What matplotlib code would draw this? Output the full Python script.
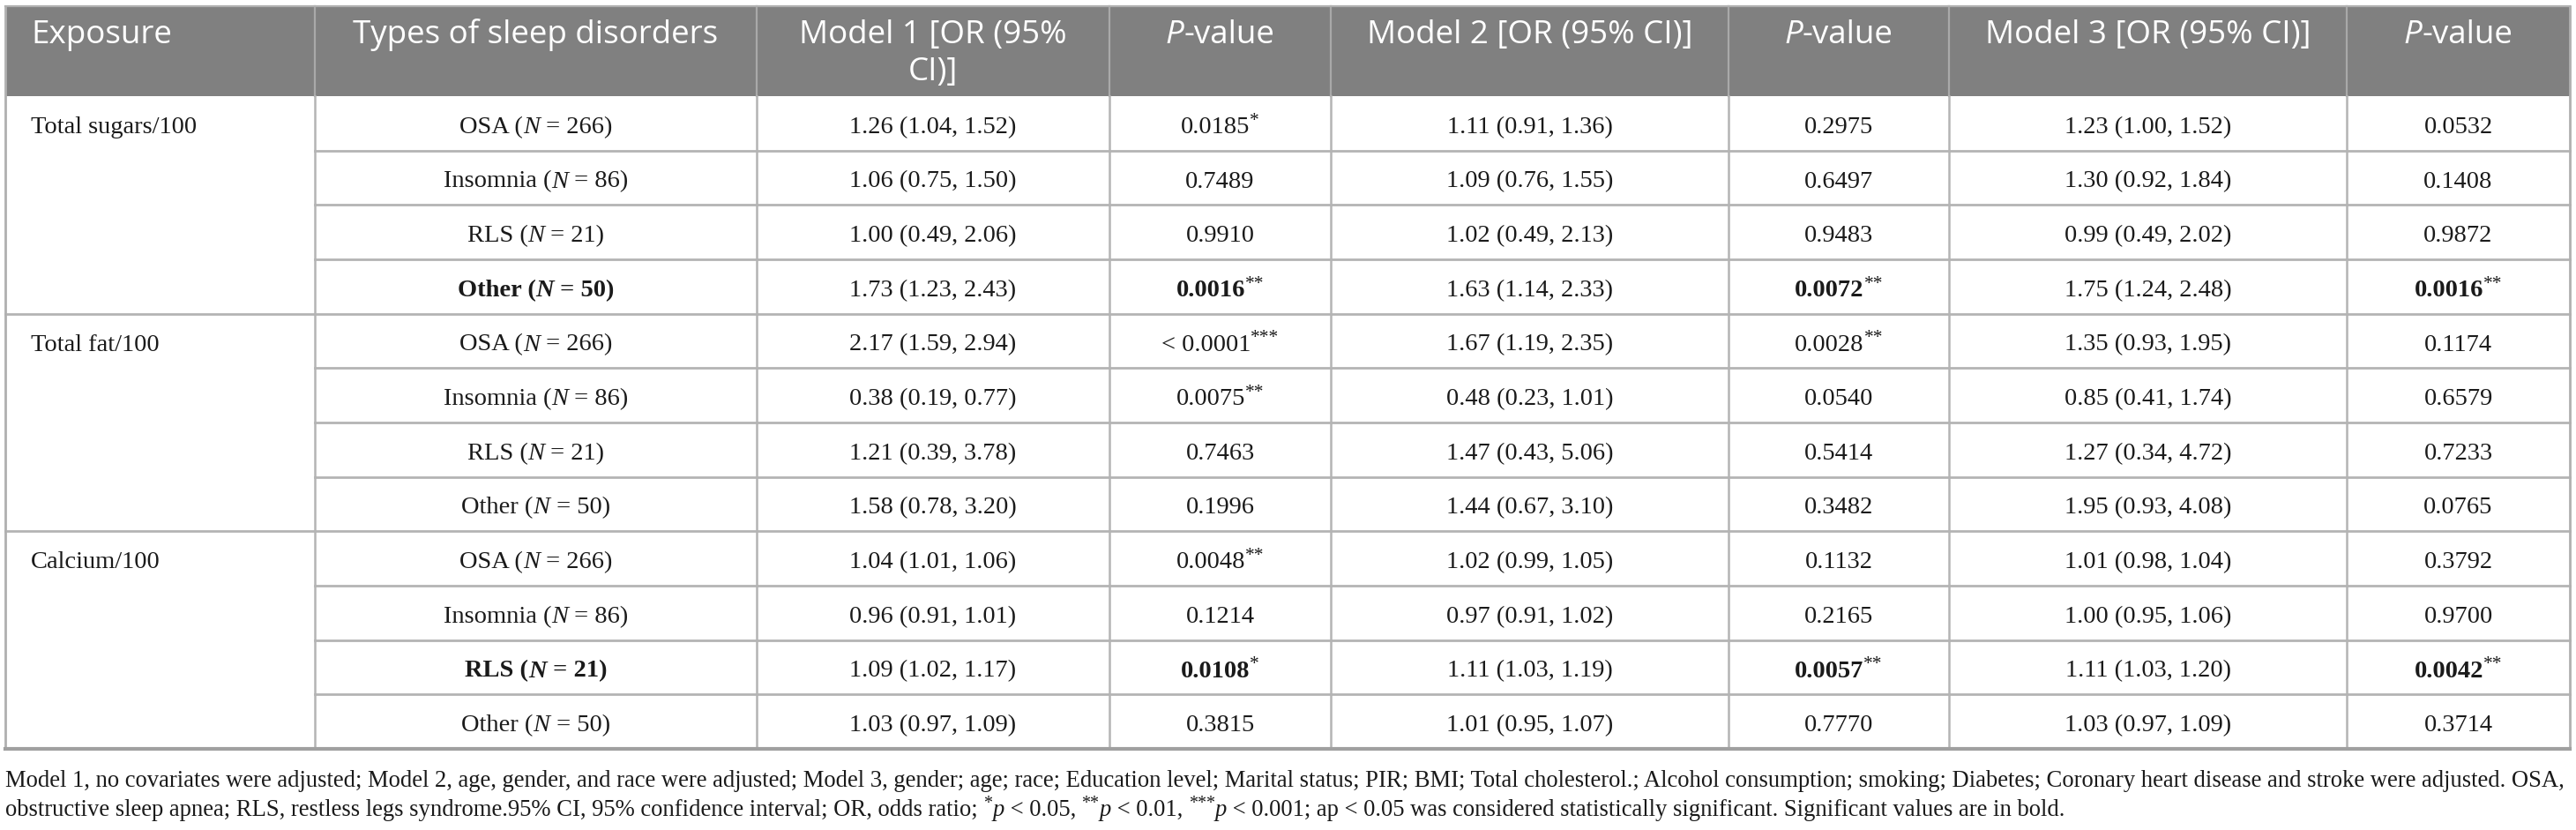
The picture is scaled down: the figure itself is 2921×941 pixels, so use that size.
import matplotlib
matplotlib.use("Agg")
import matplotlib.pyplot as plt

# ---- table content ----
exposures = ["Total sugars/100", "Total fat/100", "Calcium/100"]
disorders = ["OSA", "Insomnia", "RLS", "Other"]
n_cases = [266, 86, 21, 50]

headers = ["Exposure", "Types of sleep disorders", "Model 1 [OR (95%\nCI)]", "P-value",
           "Model 2 [OR (95% CI)]", "P-value", "Model 3 [OR (95% CI)]", "P-value"]

model1_or = ["1.26 (1.04, 1.52)", "1.06 (0.75, 1.50)", "1.00 (0.49, 2.06)", "1.73 (1.23, 2.43)",
             "2.17 (1.59, 2.94)", "0.38 (0.19, 0.77)", "1.21 (0.39, 3.78)", "1.58 (0.78, 3.20)",
             "1.04 (1.01, 1.06)", "0.96 (0.91, 1.01)", "1.09 (1.02, 1.17)", "1.03 (0.97, 1.09)"]
model1_p = ["0.0185*", "0.7489", "0.9910", "0.0016**",
            "< 0.0001***", "0.0075**", "0.7463", "0.1996",
            "0.0048**", "0.1214", "0.0108*", "0.3815"]
model2_or = ["1.11 (0.91, 1.36)", "1.09 (0.76, 1.55)", "1.02 (0.49, 2.13)", "1.63 (1.14, 2.33)",
             "1.67 (1.19, 2.35)", "0.48 (0.23, 1.01)", "1.47 (0.43, 5.06)", "1.44 (0.67, 3.10)",
             "1.02 (0.99, 1.05)", "0.97 (0.91, 1.02)", "1.11 (1.03, 1.19)", "1.01 (0.95, 1.07)"]
model2_p = ["0.2975", "0.6497", "0.9483", "0.0072**",
            "0.0028**", "0.0540", "0.5414", "0.3482",
            "0.1132", "0.2165", "0.0057**", "0.7770"]
model3_or = ["1.23 (1.00, 1.52)", "1.30 (0.92, 1.84)", "0.99 (0.49, 2.02)", "1.75 (1.24, 2.48)",
             "1.35 (0.93, 1.95)", "0.85 (0.41, 1.74)", "1.27 (0.34, 4.72)", "1.95 (0.93, 4.08)",
             "1.01 (0.98, 1.04)", "1.00 (0.95, 1.06)", "1.11 (1.03, 1.20)", "1.03 (0.97, 1.09)"]
model3_p = ["0.0532", "0.1408", "0.9872", "0.0016**",
            "0.1174", "0.6579", "0.7233", "0.0765",
            "0.3792", "0.9700", "0.0042**", "0.3714"]
bold_rows = [3, 10]   # rows printed in bold (significant in every model)

note1 = ("Model 1, no covariates were adjusted; Model 2, age, gender, and race were adjusted; Model 3, gender; "
         "age; race; Education level; Marital status; PIR; BMI; Total cholesterol.; Alcohol consumption; smoking; "
         "Diabetes; Coronary heart disease and stroke were adjusted. OSA,")
note2 = [("obstructive sleep apnea; RLS, restless legs syndrome.95% CI, 95% confidence interval; OR, odds ratio; ", "n"),
         ("*", "sup"), ("p", "i"), (" < 0.05, ", "n"), ("**", "sup"), ("p", "i"), (" < 0.01, ", "n"),
         ("***", "sup"), ("p", "i"),
         (" < 0.001; ap < 0.05 was considered statistically significant. Significant values are in bold.", "n")]

# ---- layout (pixels) ----
W, H = 2921, 941
col_edges = [6, 357, 858, 1258, 1509, 1960, 2210, 2661, 2914]
head_top, head_bot, tab_bot = 7, 109, 849
n_rows = 12
row_h = (tab_bot - head_bot) / n_rows

SERIF = "Liberation Serif"
SANS = "Open Sans"
body_fs = 20.5
head_fs = 26.5
head_bg = "#808080"
line_c = "#b4b4b4"

fig = plt.figure(figsize=(W / 100, H / 100), dpi=100)
ax = fig.add_axes([0, 0, 1, 1])
ax.set_xlim(0, W)
ax.set_ylim(H, 0)
ax.axis("off")
renderer = fig.canvas.get_renderer()


def text_width(txt, **kw):
    # measure with guard characters so leading/trailing spaces count
    t1 = ax.text(0, 0, "|" + txt + "|", **kw)
    t2 = ax.text(0, 0, "||", **kw)
    w = t1.get_window_extent(renderer).width - t2.get_window_extent(renderer).width
    t1.remove()
    t2.remove()
    return w


def draw_runs(x, base_y, runs, ha="center", size=body_fs):
    # runs: (text, kind) kind in n, b, i, bi, sup
    px = size * 100 / 72
    pieces = []
    for txt, kind in runs:
        kw = dict(family=SERIF, fontsize=size, va="baseline", ha="left", color="#1a1a1a")
        dy = 0
        if kind in ("b", "bi"):
            kw["fontweight"] = "bold"
        if kind in ("i", "bi"):
            kw["fontstyle"] = "italic"
        if kind == "sup":
            kw["fontsize"] = size * 0.75
            dy = -0.32 * px
        pieces.append((txt, kw, dy, text_width(txt, **kw)))
    total = sum(p[3] for p in pieces)
    cx = x - total / 2 if ha == "center" else x
    for txt, kw, dy, w in pieces:
        ax.text(cx, base_y + dy, txt, **kw)
        cx += w


def split_p(val, bold):
    stars = val.rstrip("*")
    nstar = len(val) - len(stars)
    runs = [(stars, "b" if bold else "n")]
    if nstar:
        runs.append(("*" * nstar, "sup"))
    return runs


# header
ax.add_patch(plt.Rectangle((col_edges[0], head_top), col_edges[-1] - col_edges[0], head_bot - head_top,
                           facecolor=head_bg, edgecolor="none", zorder=0))
for i, h in enumerate(headers):
    x0, x1 = col_edges[i], col_edges[i + 1]
    if i == 0:
        xt, ha = x0 + 29, "left"
    else:
        xt, ha = (x0 + x1) / 2, "center"
    if h == "P-value":
        w1 = text_width("P", family=SANS, fontsize=head_fs, fontstyle="italic")
        w2 = text_width("-value", family=SANS, fontsize=head_fs)
        sx = xt - (w1 + w2) / 2
        ax.text(sx, 49, "P", family=SANS, fontsize=head_fs, fontstyle="italic", color="white", va="baseline")
        ax.text(sx + w1, 49, "-value", family=SANS, fontsize=head_fs, color="white", va="baseline")
    else:
        for k, line in enumerate(h.split("\n")):
            ax.text(xt, 49 + k * 42, line, family=SANS, fontsize=head_fs, color="white",
                    ha=ha, va="baseline")

# grid lines
for x in col_edges[1:-1]:
    ax.plot([x, x], [head_top, head_bot], color="#a9a9a9", lw=1.6, zorder=2)
    ax.plot([x, x], [head_bot, tab_bot], color=line_c, lw=1.8, zorder=2)
for r in range(1, n_rows):
    y = head_bot + r * row_h
    start = col_edges[0] if r % 4 == 0 else col_edges[1]
    ax.plot([start, col_edges[-1]], [y, y], color=line_c, lw=2.0, zorder=2)
ax.plot([col_edges[0], col_edges[-1]], [head_top, head_top], color="#b0b0b0", lw=1.6, zorder=3)
ax.plot([col_edges[0], col_edges[0]], [head_top, tab_bot], color="#b0b0b0", lw=2.0, zorder=3)
ax.plot([col_edges[-1], col_edges[-1]], [head_top, tab_bot], color="#b0b0b0", lw=2.0, zorder=3)
ax.plot([col_edges[0], col_edges[-1]], [tab_bot, tab_bot], color="#a0a0a0", lw=3.0, zorder=3)

# body
centers = [(col_edges[i] + col_edges[i + 1]) / 2 for i in range(len(col_edges) - 1)]
for r in range(n_rows):
    yb = head_bot + (r + 0.5) * row_h + 11
    bold = r in bold_rows
    if r % 4 == 0:
        draw_runs(col_edges[0] + 29, yb, [(exposures[r // 4], "n")], ha="left")
    d = r % 4
    f = "b" if bold else "n"
    draw_runs(centers[1], yb, [(disorders[d] + " (", f), ("N", "bi" if bold else "i"),
                               (" = %d)" % n_cases[d], f)])
    draw_runs(centers[2], yb, [(model1_or[r], "n")])
    draw_runs(centers[3], yb, split_p(model1_p[r], bold))
    draw_runs(centers[4], yb, [(model2_or[r], "n")])
    draw_runs(centers[5], yb, split_p(model2_p[r], bold))
    draw_runs(centers[6], yb, [(model3_or[r], "n")])
    draw_runs(centers[7], yb, split_p(model3_p[r], bold))

# footnote, sized so the first line spans the table width
foot_fs = 17.0
w_note = text_width(note1, family=SERIF, fontsize=foot_fs)
foot_fs = foot_fs * (2912 - 6) / w_note
draw_runs(6, 892, [(note1, "n")], ha="left", size=foot_fs)
draw_runs(6, 925, note2, ha="left", size=foot_fs)

fig.savefig("out.png", dpi=100, facecolor="white")
